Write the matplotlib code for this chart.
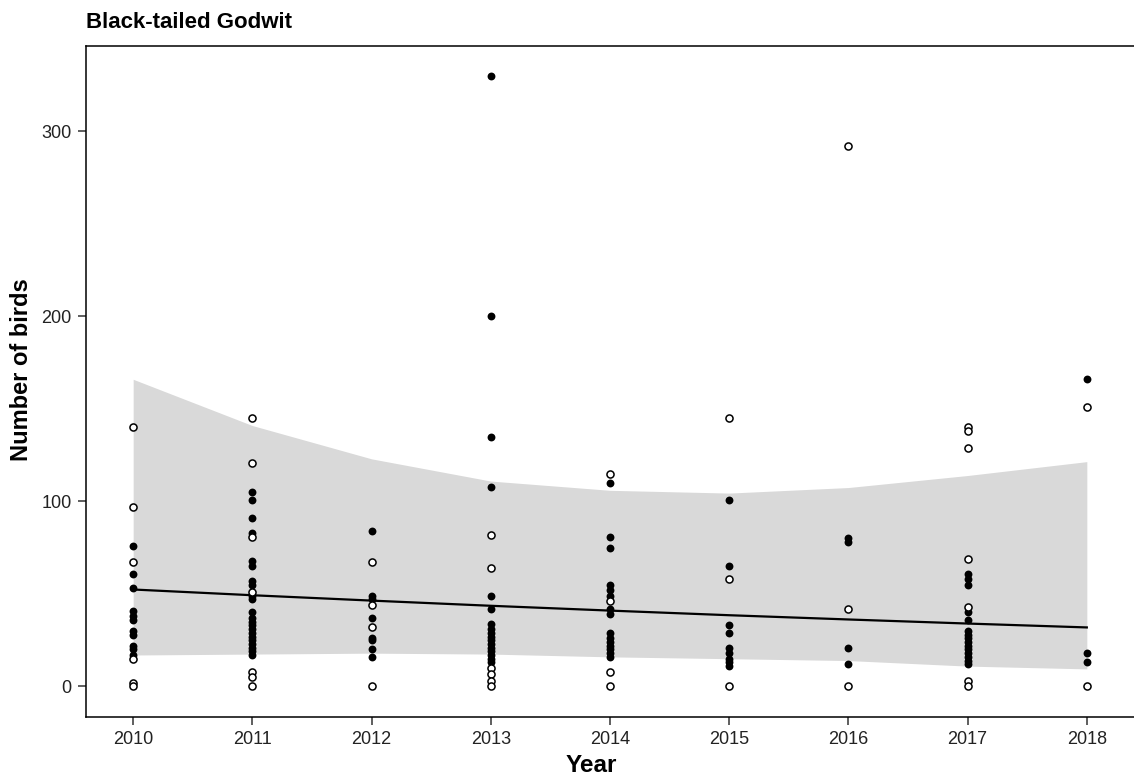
import matplotlib.pyplot as plt

plt.rcParams['font.family'] = ['Liberation Sans', 'DejaVu Sans']

# Counts per survey, split into the two count types (filled / open symbols)
filled_years = ([2010] * 11 + [2011] * 22 + [2012] * 8 + [2013] * 17 + [2014] * 15
                + [2015] * 9 + [2016] * 4 + [2017] * 15 + [2018] * 3)
filled_counts = [
    76, 61, 53, 41, 38, 36, 30, 28, 22, 20, 17,
    105, 101, 91, 83, 68, 65, 57, 55, 49, 47, 40, 37, 35, 33, 31, 29, 27, 25, 23, 21, 19, 17,
    84, 49, 47, 37, 26, 25, 20, 16,
    330, 200, 135, 108, 49, 42, 34, 31, 29, 27, 25, 23, 21, 19, 17, 15, 13,
    110, 81, 75, 55, 52, 49, 42, 39, 29, 26, 24, 22, 20, 18, 16,
    101, 65, 33, 29, 21, 18, 15, 13, 11,
    80, 78, 21, 12,
    61, 58, 55, 40, 36, 30, 28, 26, 24, 22, 20, 18, 16, 14, 12,
    166, 18, 13,
]

open_years = ([2010] * 6 + [2011] * 7 + [2012] * 4 + [2013] * 6 + [2014] * 4
              + [2015] * 3 + [2016] * 3 + [2017] * 7 + [2018] * 2)
open_counts = [
    140, 97, 67, 15, 2, 0,
    145, 121, 81, 51, 8, 5, 0,
    67, 44, 32, 0,
    82, 64, 10, 7, 3, 0,
    115, 46, 8, 0,
    145, 58, 0,
    292, 42, 0,
    140, 138, 129, 69, 43, 3, 0,
    151, 0,
]

# Fitted trend and its confidence band, one value per year
fit_years = [2010, 2011, 2012, 2013, 2014, 2015, 2016, 2017, 2018]
fit_mean = [52.4, 49.3, 46.4, 43.6, 41.0, 38.5, 36.2, 34.0, 31.9]
fit_upper = [166, 141, 123, 111, 106, 104.5, 107.5, 114, 121.5]
fit_lower = [17, 17.5, 18, 17.5, 16, 15, 14, 11, 9.5]

fig = plt.figure(figsize=(11.34, 7.80), dpi=100)
ax = fig.add_axes([85.5 / 1134, 1 - 717 / 780, (1134.5 - 85.5) / 1134, (717 - 46) / 780])

ax.fill_between(fit_years, fit_lower, fit_upper, color='#d9d9d9', linewidth=0, zorder=1)
ax.plot(fit_years, fit_mean, color='black', linewidth=1.6, zorder=2)

ax.scatter(filled_years, filled_counts, s=32, color='black', linewidths=0, zorder=3)
ax.scatter(open_years, open_counts, s=26, facecolor='white', edgecolor='black',
           linewidths=1.1, zorder=3)

ax.set_xlim(2009.6, 2018.4)
ax.set_ylim(-16.5, 346.1)
ax.set_xticks(fit_years)
ax.set_yticks([0, 100, 200, 300])

for side in ['top', 'right', 'bottom', 'left']:
    ax.spines[side].set_linewidth(1.1)
    ax.spines[side].set_color('black')
ax.tick_params(direction='out', length=6, width=1.1, color='#333333',
               labelsize=13, labelcolor='#222222', pad=4)

ax.set_xlabel('Year', fontsize=17.5, fontweight='bold')
ax.set_ylabel('Number of birds', fontsize=17, fontweight='bold')
ax.xaxis.set_label_coords((591 - 85.5) / 1049, -(765 - 717) / 671)
ax.yaxis.set_label_coords(-(85.5 - 22) / 1049, (717 - 370) / 671)
ax.xaxis.label.set_va('center')
ax.yaxis.label.set_va('center')
fig.text(86 / 1134, 1 - 22 / 780, 'Black-tailed Godwit', fontsize=16,
         fontweight='bold', ha='left', va='center')

plt.savefig('out.png', dpi=100)
